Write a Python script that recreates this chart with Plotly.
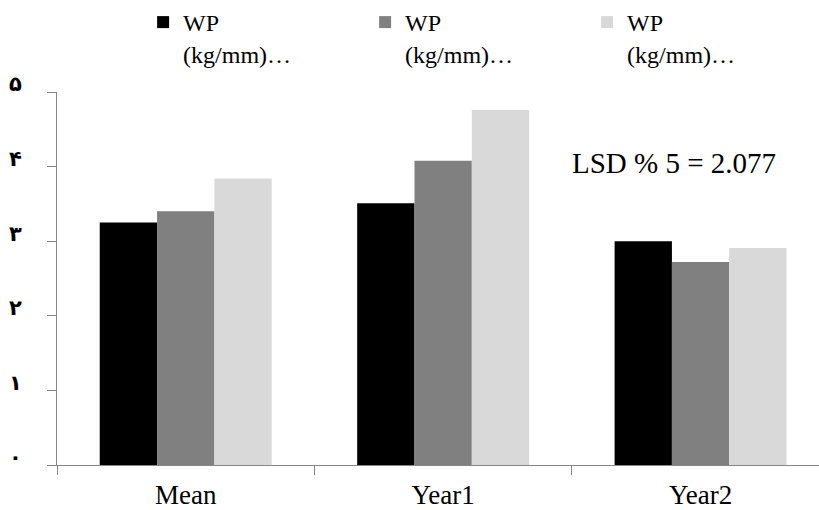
import plotly.graph_objects as go

categories = ["Mean", "Year1", "Year2"]
series_names = ["WP<br>(kg/mm)…", "WP<br>(kg/mm)…", "WP<br>(kg/mm)…"]
series_a = [3.25, 3.51, 3.00]
series_b = [3.40, 4.08, 2.72]
series_c = [3.84, 4.76, 2.91]
colors = ["#000000", "#808080", "#D9D9D9"]
y_tick_vals = [0, 1, 2, 3, 4, 5]
y_tick_text = ["۰", "۱", "۲", "۳", "۴", "۵"]
lsd_text = "LSD % 5 = 2.077"

SERIF = "Liberation Serif, Times New Roman, Tinos, DejaVu Serif, serif"

fig = go.Figure()
for name, vals, col in zip(series_names, [series_a, series_b, series_c], colors):
    fig.add_trace(go.Bar(x=categories, y=vals, name=name,
                         marker=dict(color=col, line=dict(width=0))))

axis_gray = "#868686"
fig.update_layout(
    width=819, height=510,
    margin=dict(l=57, r=0, t=92, b=43),
    paper_bgcolor="white", plot_bgcolor="white",
    barmode="group", bargap=0.332, bargroupgap=0,
    font=dict(family=SERIF, color="black", size=24),
    showlegend=True,
    legend=dict(orientation="h", x=0.113, xanchor="left", y=1.248, yanchor="top",
                entrywidth=177, entrywidthmode="pixels", itemwidth=30,
                valign="top", font=dict(size=24, family=SERIF),
                bgcolor="rgba(0,0,0,0)", traceorder="normal"),
    xaxis=dict(type="category", range=[-0.5, 2.46], showline=True, linecolor=axis_gray,
               linewidth=1, ticks="outside", tickson="boundaries", ticklen=9,
               tickcolor=axis_gray, tickwidth=1, showgrid=False, zeroline=False,
               ticklabelstandoff=6,
               tickfont=dict(size=27, family=SERIF)),
    yaxis=dict(range=[0, 5], tickvals=y_tick_vals, ticktext=y_tick_text, showline=True,
               linecolor=axis_gray, linewidth=1, ticks="outside", ticklen=9,
               tickcolor=axis_gray, tickwidth=1, showgrid=False, zeroline=False,
               ticklabelstandoff=21, ticklabelshift=-8,
               tickfont=dict(size=21, family="DejaVu Sans", weight="bold")),
    annotations=[dict(text=lsd_text, xref="paper", yref="paper", x=0.673, y=0.81,
                      xanchor="left", yanchor="middle", showarrow=False,
                      font=dict(size=29, family=SERIF, color="black"))],
)

fig.write_html("out.html")
